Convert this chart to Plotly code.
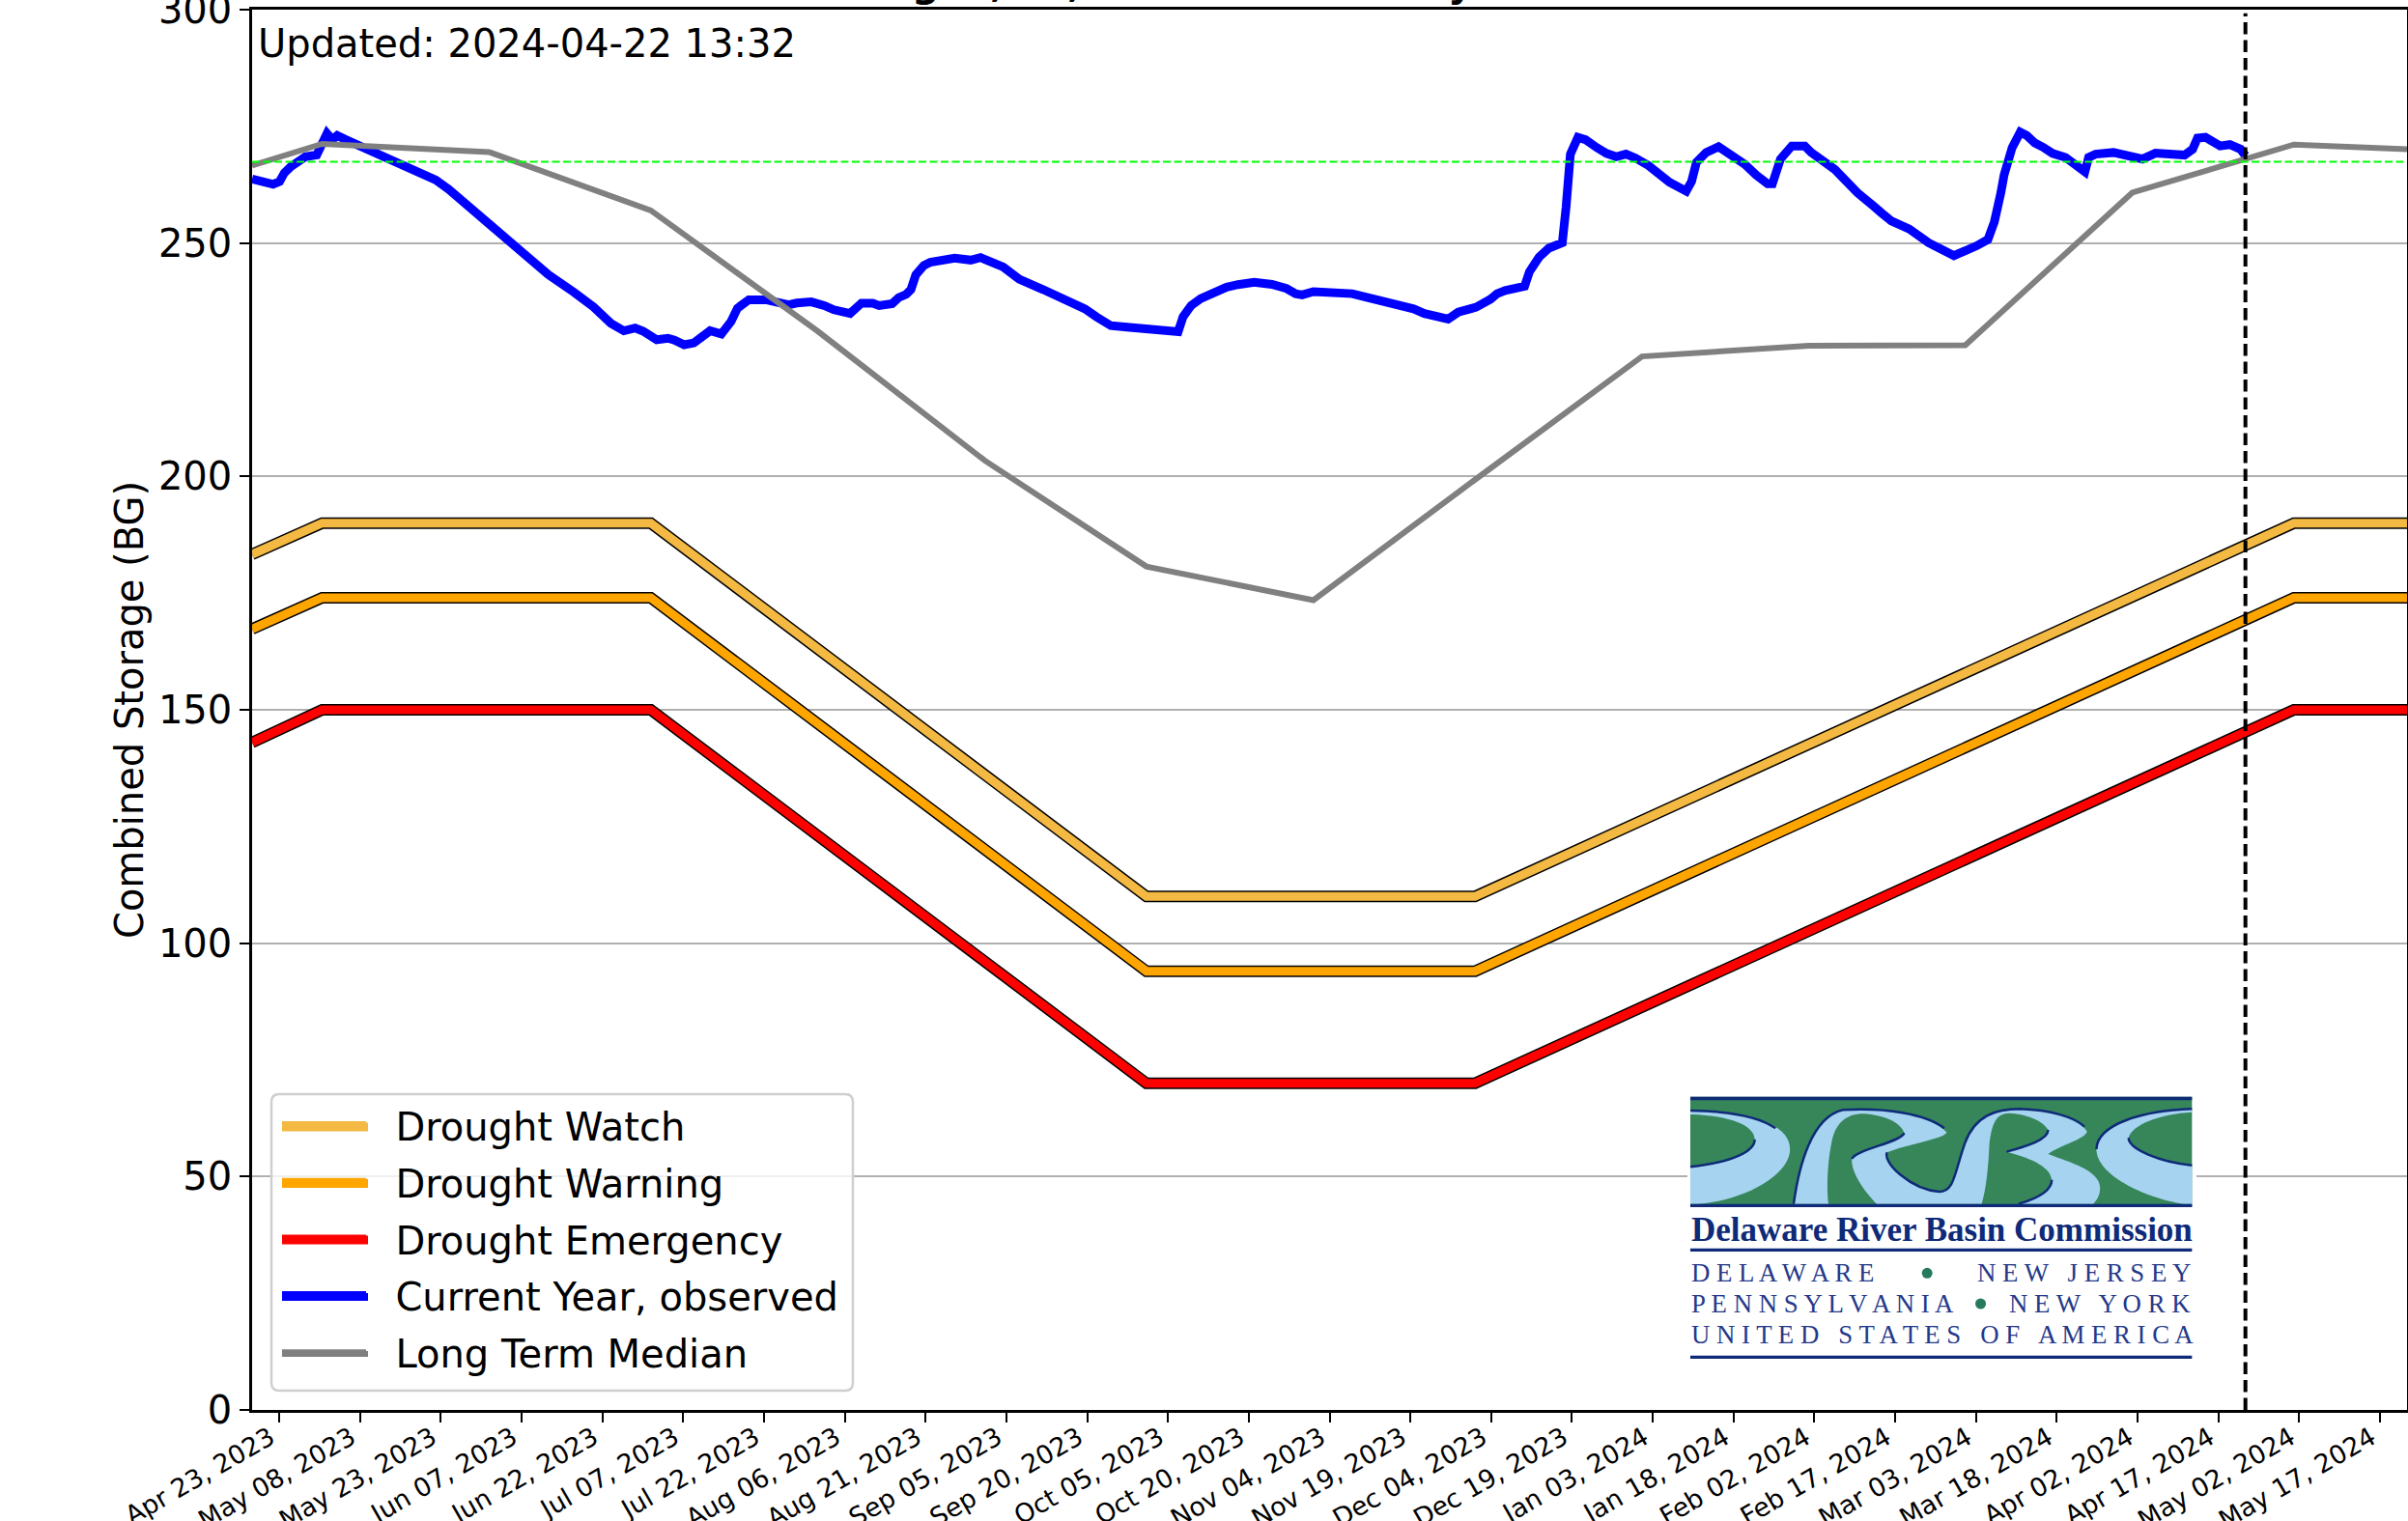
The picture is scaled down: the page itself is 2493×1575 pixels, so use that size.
import pandas as pd
import plotly.graph_objects as go

# ---------- data ----------
START = pd.Timestamp("2023-04-18")
END = pd.Timestamp("2024-05-22")
UPDATED = pd.Timestamp("2024-04-22")
MID_TERM_LEVEL = 267.4
Y_TICKS = [0, 50, 100, 150, 200, 250, 300]

CURVE_DATES = ["2023-04-18", "2023-05-01", "2023-07-01", "2023-10-01", "2023-12-01", "2024-05-01", "2024-05-22"]
WATCH = [183.3, 190, 190, 110, 110, 190, 190]
WARNING = [167.3, 174, 174, 94, 94, 174, 174]
EMERGENCY = [143, 150, 150, 70, 70, 150, 150]

MEDIAN_DATES = ["2023-04-18", "2023-05-01", "2023-06-01", "2023-07-01", "2023-08-01", "2023-09-01", "2023-10-01",
                "2023-11-01", "2023-12-01", "2024-01-01", "2024-02-01", "2024-03-01", "2024-04-01", "2024-05-01",
                "2024-05-22"]
MEDIAN = [266.6, 271.25, 269.5, 257, 231.1, 203.4, 180.7, 173.5, 199.3, 225.7, 228, 228.1, 260.8, 271.1, 270.1]

# observed storage: days since 2023-04-18, and billions of gallons
OBS_DAY = [0, 2.4, 3.9, 5.1, 6.0, 7.2, 8.4, 9.9, 12, 12.9, 13.9, 14.9, 15.8, 17.3, 19.1, 21.5, 23, 24.5, 26.9, 29.9,
           34.1, 36.5, 39.5, 44.2, 47.2, 50.8, 55, 59.8, 63.4, 66.6, 69, 71.1, 72.6, 75.1, 77.2, 78.4, 80.2, 82, 84.1,
           85, 87.1, 88.9, 90.1, 92.2, 95.4, 97.5, 99.6, 101.1, 103.8, 106.2, 108, 111, 113.1, 115.2, 116.4, 118.8,
           120, 121.4, 122.3, 123.2, 124.7, 125.9, 128, 130.4, 133.4, 135.2, 139.4, 142.4, 146.8, 150.4, 152.2, 154.6,
           156.7, 159.4, 162.4, 165.3, 168.3, 171.9, 172.8, 174.3, 176.1, 178.2, 180.9, 183, 186, 189.3, 192, 193.7,
           194.9, 197, 201.2, 204.2, 206.9, 210.8, 215.6, 217.6, 220, 222, 223.9, 225.7, 227.2, 229.9, 231.1, 232.6,
           236.2, 237.1, 238.9, 240.7, 243.2, 243.9, 244.7, 246.1, 247.5, 249.6, 251.4, 253.2, 255, 256.8, 259.2,
           263.1, 266.2, 267.2, 268.1, 269.9, 272.2, 274.7, 277.1, 279.2, 281.3, 282.2, 283.7, 285.8, 288.2, 289.4,
           293.8, 298, 299.8, 301, 302.5, 304.3, 307.6, 309.4, 311.2, 315.9, 318.3, 320.1, 322.2, 323.4, 324.6, 325.2,
           326.7, 328.2, 329.4, 330.9, 332.4, 334.2, 336.6, 339, 340.2, 340.9, 342.2, 345.5, 348.2, 349.7, 350.9,
           353.3, 356, 358.7, 360.2, 361.1, 362.6, 365.3, 367.1, 369.1, 370]
OBS = [263.7, 263.25, 262.6, 263.2, 265.05, 266.4, 267.25, 268.5, 268.9, 271.5, 273.5, 272.15, 273.05, 272.2, 271.25,
       270.4, 269.6, 268.35, 267.1, 265.6, 263.5, 261.5, 258.55, 253.5, 251.1, 247.3, 243.2, 239.4, 236.3, 232.8,
       231.2, 231.8, 231.1, 229.3, 229.6, 229.2, 228.2, 228.6, 230.75, 231.2, 230.5, 233.2, 236.05, 237.85, 237.85,
       237.15, 236.75, 237.15, 237.4, 236.6, 235.7, 234.9, 237.1, 237.1, 236.6, 237, 238.3, 239, 240.05, 243.2, 245.2,
       245.9, 246.3, 246.75, 246.35, 246.9, 244.9, 242.25, 240.05, 238.3, 237.1, 235.9, 234.2, 232.3, 232, 231.6,
       231.3, 231, 234.2, 236.6, 238.1, 239.4, 240.55, 241.1, 241.6, 241.15, 240.25, 239.15, 238.9, 239.6, 239.6,
       239.15, 238.35, 237.45, 235.9, 234.9, 234.5, 233.7, 235.2, 235.9, 236.25, 238, 239.15, 239.85, 240.75, 243.85,
       247, 248.9, 250.05, 257.65, 269.05, 272.65, 272.15, 270.45, 269.2, 268.5, 269.05, 268.2, 266.6, 263, 261.1,
       263.2, 267.3, 269.4, 270.65, 268.7, 266.85, 264.55, 262.7, 262.7, 268, 270.8, 270.8, 269.4, 265.75, 260.75,
       259.25, 257.9, 256.4, 254.7, 253, 251.25, 250.05, 247.3, 248.35, 249.4, 250.75, 254.55, 260.75, 264.55, 270.45,
       273.75, 273.05, 271.45, 270.55, 269.2, 268.35, 265.95, 265.25, 268.35, 269.05, 269.4, 268.9, 268.15, 268,
       269.25, 269.25, 268.85, 270.1, 272.5, 272.65, 270.8, 271.1, 270.1, 268.7]

obs_dates = START + pd.to_timedelta(OBS_DAY, unit="D")

# ---------- page geometry ----------
W, H = 2493, 1575
L, R, T, B = 261, 2492, 10, 1460
FONT = "DejaVu Sans"
NAVY = "#0E2A78"
WATCH_COLOR, WARNING_COLOR, EMERGENCY_COLOR = "#F4B942", "#FFA500", "#FF0000"
OBS_COLOR, MEDIAN_COLOR = "#0000FF", "#808080"


def px(x):
    return (x - L) / (R - L)


def py(y):
    return 1 - (y - T) / (B - T)


def path_px(d):
    """SVG path given in page pixels -> path in paper coordinates."""
    out, is_x = [], True
    for tok in d.split():
        if tok.isalpha():
            out.append(tok)
            is_x = True
        else:
            out.append(f"{px(float(tok)):.5f}" if is_x else f"{py(float(tok)):.5f}")
            is_x = not is_x
    return " ".join(out)


def logo_path(d):
    """Path given in logo-local units (x / 1.86, y / 3 from the logo corner at 1650, 1100)."""
    out, is_x = [], True
    for tok in d.split():
        if tok.isalpha():
            out.append(tok)
            is_x = True
        else:
            v = float(tok)
            out.append(f"{px(1650 + v / 1.86):.5f}" if is_x else f"{py(1100 + v / 3):.5f}")
            is_x = not is_x
    return " ".join(out)


fig = go.Figure()


def curve(name, values, color):
    group = name
    fig.add_trace(go.Scatter(x=CURVE_DATES, y=values, mode="lines", showlegend=False, legendgroup=group,
                             hoverinfo="skip", line=dict(color="black", width=12)))
    fig.add_trace(go.Scatter(x=CURVE_DATES, y=values, mode="lines", name="\u00a0\u00a0" + name, legendgroup=group,
                             line=dict(color=color, width=9)))


curve("Drought Watch", WATCH, WATCH_COLOR)
curve("Drought Warning", WARNING, WARNING_COLOR)
curve("Drought Emergency", EMERGENCY, EMERGENCY_COLOR)
fig.add_trace(go.Scatter(x=obs_dates, y=OBS, mode="lines", name="\u00a0\u00a0Current Year, observed",
                         legendgroup="obs", line=dict(color=OBS_COLOR, width=9)))
fig.add_trace(go.Scatter(x=MEDIAN_DATES, y=MEDIAN, mode="lines", name="\u00a0\u00a0Long Term Median",
                         legendgroup="med", line=dict(color=MEDIAN_COLOR, width=6)))
fig.add_trace(go.Scatter(x=[START, END], y=[MID_TERM_LEVEL, MID_TERM_LEVEL], mode="lines", showlegend=False,
                         line=dict(color="#00FF00", width=2, dash="8px,3.5px")))
fig.add_trace(go.Scatter(x=[UPDATED, UPDATED], y=[0, 299.2], mode="lines", showlegend=False,
                         line=dict(color="black", width=4, dash="12.5px,6px")))

# ---------- legend frame and logo ----------
shapes = []


def add(path, fill=None, line=None, lw=0):
    shapes.append(dict(type="path", path=path, xref="paper", yref="paper", layer="above",
                       fillcolor=fill if fill else "rgba(0,0,0,0)",
                       line=dict(color=line if line else "rgba(0,0,0,0)", width=lw)))


add(path_px("M 289 1133 L 875 1133 Q 883 1133 883 1141 L 883 1432 Q 883 1440 875 1440 "
            "L 289 1440 Q 281 1440 281 1432 L 281 1141 Q 281 1133 289 1133 Z"),
    fill="rgba(255,255,255,0.8)", line="#CFCFCF", lw=2.5)
# plotly caps the thickness of legend samples: thicken them to the drawn line widths
for yc, half, color in [(1167, 4.5, WATCH_COLOR), (1225.5, 4.5, WARNING_COLOR), (1284, 4.5, EMERGENCY_COLOR),
                        (1343, 4, OBS_COLOR), (1402, 3, MEDIAN_COLOR)]:
    shapes.append(dict(type="rect", xref="paper", yref="paper", layer="above", x0=px(292), x1=px(381),
                       y0=py(yc + half), y1=py(yc - half), fillcolor=color, line=dict(width=0)))

shapes.append(dict(type="rect", xref="paper", yref="paper", layer="above", x0=px(1747), x1=px(2274), y0=py(1410),
                   y1=py(1130), fillcolor="white", line=dict(width=0)))
GREEN, SKY = "#36865A", "#A6D3EF"
add(logo_path("M 186 107 L 1152 107 L 1152 450 L 186 450 Z"), fill=GREEN)
add(logo_path("M 186 150 C 300 155 378 190 378 270 C 378 350 290 430 200 440 L 186 440 L 186 325 "
              "C 270 310 310 275 310 240 C 310 195 260 165 186 162 Z"), fill=SKY)
add(logo_path("M 385 440 C 395 320 420 170 480 148 C 560 140 650 165 680 218 C 670 240 600 255 565 280 "
              "C 555 310 610 395 665 402 C 695 402 695 340 715 250 C 735 165 775 145 820 145 "
              "C 880 148 935 175 950 215 C 945 240 900 255 875 285 C 915 310 975 335 975 390 "
              "C 975 415 968 430 962 440 L 818 440 C 860 420 882 395 882 365 C 880 330 850 300 795 278 "
              "C 835 260 875 240 875 210 C 865 180 830 160 800 158 C 775 160 768 185 762 250 "
              "C 760 330 755 400 747 440 L 545 440 C 520 400 495 340 497 300 C 505 270 590 250 598 220 "
              "C 590 185 560 165 520 160 C 485 160 465 190 458 250 C 450 310 448 400 452 440 Z"), fill=SKY)
add(logo_path("M 1152 145 C 1060 150 970 190 968 270 C 968 350 1060 420 1135 440 L 1152 440 L 1152 320 "
              "C 1090 310 1030 270 1030 235 C 1035 195 1090 160 1152 155 Z"), fill=SKY)
for stroke in ["M 186 150 C 260 152 320 170 350 205",
               "M 186 325 C 270 310 310 275 310 240",
               "M 385 440 C 395 320 420 170 480 148 C 560 140 640 160 675 205",
               "M 497 300 C 505 270 590 250 598 220",
               "M 565 280 C 555 310 610 395 665 402 C 695 402 695 340 715 250 C 735 165 775 145 820 145 C 880 148 925 170 945 200",
               "M 795 278 C 835 260 875 240 875 210",
               "M 818 440 C 860 420 882 395 882 365",
               "M 1152 145 C 1060 150 970 190 968 270",
               "M 1152 320 C 1090 310 1030 270 1030 235"]:
    add(logo_path(stroke), line=NAVY, lw=2.5)
for y0, y1 in [(107, 118), (440, 450), (578, 588), (911, 921)]:
    add(logo_path(f"M 186 {y0} L 1152 {y0} L 1152 {y1} L 186 {y1} Z"), fill=NAVY)
for zx, zy in [(642, 655), (745, 750)]:
    cx, cy = 1650 + zx / 1.86, 1100 + zy / 3
    r = 5.5
    shapes.append(dict(type="circle", xref="paper", yref="paper", layer="above", x0=px(cx - r), x1=px(cx + r),
                       y0=py(cy + r), y1=py(cy - r), fillcolor="#257A5E", line=dict(width=0)))


def note(text, x, y, xanchor="left", yanchor="middle", size=40, family=FONT, color="black", weight=None, yshift=0):
    fig.add_annotation(text=text, xref="paper", yref="paper", x=px(x), y=py(y), xanchor=xanchor, yanchor=yanchor,
                       showarrow=False, yshift=yshift, borderpad=0,
                       font=dict(size=size, family=family, color=color, weight=weight))


note("Updated: 2024-04-22 13:32", 266, 44.5)

# the title is cut off by the top of the page: only these descenders are visible
for ch, x in [("g", 958), (",", 1032), (",", 1112), ("y", 1512)]:
    note(ch, x, 6, xanchor="center", yanchor="bottom", weight="bold")

SERIF = "Liberation Serif"
note("<b>Delaware River Basin Commission</b>", 1750, 1273, size=35, family=SERIF, color=NAVY)
LOGO_TEXT = "#25398A"
note("D E L A W A R E", 1750, 1318, size=26.8, family=SERIF, color=LOGO_TEXT)
note("N E W \u00a0 J E R S E Y", 2269, 1318, xanchor="right", size=26.8, family=SERIF, color=LOGO_TEXT)
note("P E N N S Y L V A N I A", 1750, 1350, size=26.8, family=SERIF, color=LOGO_TEXT)
note("N E W \u00a0 Y O R K", 2269, 1350, xanchor="right", size=26.8, family=SERIF, color=LOGO_TEXT)
note("U N I T E D \u00a0 S T A T E S \u00a0 O F \u00a0 A M E R I C A", 1750, 1382, size=26.8, family=SERIF,
     color=LOGO_TEXT)

fig.update_layout(
    template="none",
    width=W, height=H, autosize=False,
    margin=dict(l=L, r=W - R, t=T, b=H - B, pad=0),
    paper_bgcolor="white", plot_bgcolor="white",
    font=dict(family=FONT, color="black"),
    shapes=shapes,
    showlegend=True,
    legend=dict(x=px(287), y=py(1133), xanchor="left", yanchor="top", bgcolor="rgba(0,0,0,0)", borderwidth=0,
                font=dict(size=40, family=FONT), itemwidth=87, tracegroupgap=3.7, traceorder="grouped"),
    xaxis=dict(type="date", range=[START, END], tick0="2023-04-23", dtick=15 * 86400000, tickformat="%b %d, %Y",
               tickangle=-30, tickfont=dict(size=26.67, family=FONT), ticks="outside", ticklen=10, tickwidth=2,
               tickcolor="black", showline=True, linecolor="black", linewidth=2.5, mirror=True, showgrid=False,
               zeroline=False, automargin=False, ticklabelshift=-9, ticklabelstandoff=-10, ticklabeloverflow="allow"),
    yaxis=dict(range=[0, 300], tickvals=Y_TICKS, tickfont=dict(size=40, family=FONT), ticks="outside", ticklen=10,
               tickwidth=2, tickcolor="black", showline=True, linecolor="black", linewidth=2.5, mirror=True,
               showgrid=True, gridcolor="#B0B0B0", gridwidth=2, zeroline=False, automargin=False,
               ticklabeloverflow="allow",
               title=dict(text="Combined Storage (BG)", font=dict(size=40, family=FONT), standoff=3)),
)

fig.write_html("out.html", config={"displayModeBar": False},
               post_script="document.body.style.margin='0';document.documentElement.style.overflow='hidden';")
